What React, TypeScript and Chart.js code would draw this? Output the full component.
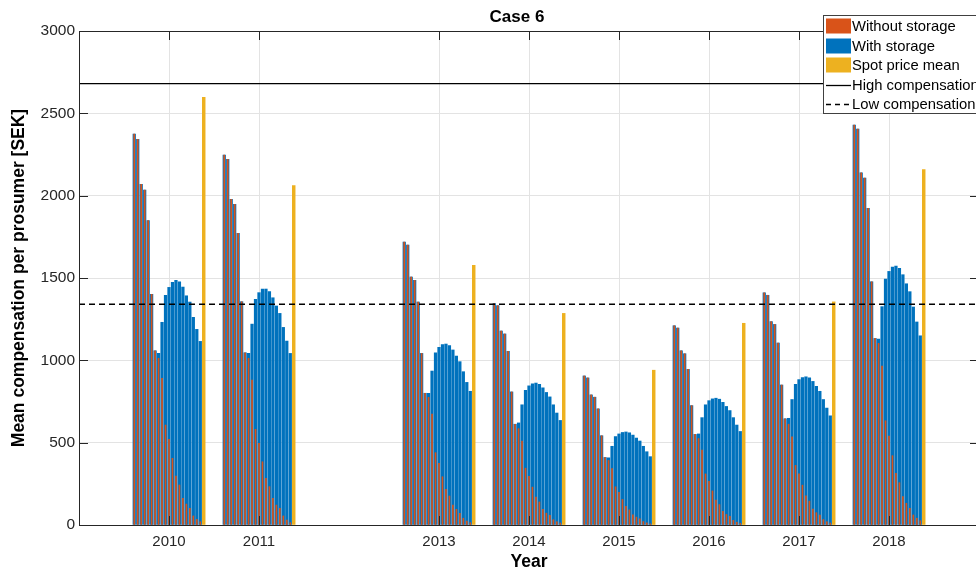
import React, { useEffect, useRef } from "react";
import { Chart, registerables } from "chart.js";
Chart.register(...registerables);

const years = [2010, 2011, 2013, 2014, 2015, 2016, 2017, 2018];

const without2010 = [2374, 2342, 2069, 2034, 1848, 1401, 1058, 1012, 890, 607, 520, 405, 297, 243, 162, 127, 101, 55, 34, 20];
const with2010 = [2374, 2342, 2069, 2034, 1848, 1401, 1058, 1042, 1231, 1395, 1443, 1473, 1486, 1477, 1445, 1392, 1354, 1261, 1188, 1115];
const without2011 = [2247, 2220, 1978, 1947, 1771, 1356, 1046, 1012, 880, 581, 496, 384, 283, 233, 162, 121, 101, 55, 30, 14];
const with2011 = [2247, 2220, 1978, 1947, 1771, 1356, 1046, 1042, 1220, 1370, 1411, 1433, 1433, 1417, 1380, 1330, 1285, 1200, 1117, 1042];
const without2013 = [1718, 1700, 1506, 1486, 1354, 1042, 800, 775, 674, 439, 375, 293, 217, 176, 121, 95, 71, 41, 24, 14];
const with2013 = [1718, 1700, 1506, 1486, 1354, 1042, 800, 800, 935, 1046, 1079, 1095, 1099, 1089, 1063, 1026, 992, 931, 866, 812];
const without2014 = [1345, 1332, 1178, 1160, 1055, 808, 612, 585, 510, 345, 295, 230, 170, 140, 95, 72, 58, 32, 20, 12];
const with2014 = [1345, 1332, 1178, 1160, 1055, 808, 612, 620, 730, 818, 845, 858, 862, 855, 833, 805, 778, 730, 680, 635];
const without2015 = [905, 893, 790, 776, 705, 542, 410, 392, 342, 232, 198, 155, 113, 92, 62, 48, 38, 21, 13, 7];
const with2015 = [905, 893, 790, 776, 705, 542, 410, 408, 478, 537, 553, 562, 565, 560, 546, 528, 510, 478, 445, 415];
const without2016 = [1210, 1196, 1058, 1040, 945, 725, 550, 525, 455, 310, 265, 207, 152, 124, 83, 64, 52, 28, 17, 10];
const with2016 = [1210, 1196, 1058, 1040, 945, 725, 550, 553, 652, 730, 755, 766, 770, 764, 745, 720, 695, 652, 607, 568];
const without2017 = [1410, 1395, 1235, 1218, 1105, 850, 645, 612, 535, 362, 310, 242, 177, 145, 97, 75, 61, 33, 20, 12];
const with2017 = [1410, 1395, 1235, 1218, 1105, 850, 645, 648, 762, 855, 883, 896, 900, 893, 872, 842, 812, 762, 710, 663];
const without2018 = [2429, 2404, 2139, 2107, 1923, 1477, 1133, 1103, 965, 633, 540, 421, 314, 257, 172, 132, 101, 61, 41, 26];
const with2018 = [2429, 2404, 2139, 2107, 1923, 1477, 1133, 1129, 1326, 1494, 1540, 1566, 1573, 1558, 1520, 1465, 1417, 1324, 1233, 1149];

const spotPriceMean = [2597, 2061, 1577, 1285, 940, 1225, 1355, 2159];
const highCompensation = 2680;
const lowCompensation = 1340;

const withoutStorage = [without2010, without2011, without2013, without2014, without2015, without2016, without2017, without2018];
const withStorage = [with2010, with2011, with2013, with2014, with2015, with2016, with2017, with2018];

const seriesNames = ["Without storage", "With storage", "Spot price mean", "High compensation", "Low compensation"];
const yTicks = [0, 500, 1000, 1500, 2000, 2500, 3000];

const SLOT = 0.0386;
const XMIN = 2009;
const XMAX = 2019;
const FONT = "'Liberation Sans', Arial, Helvetica, sans-serif";
const ORANGE = "#D95319";
const BLUE = "#0072BD";
const YELLOW = "#EDB120";
const AXIS = "#262626";

function slotPoints(groups: number[][]) {
  const pts: { x: number; y: number }[] = [];
  groups.forEach((vals, gi) => {
    vals.forEach((v, k) => pts.push({ x: years[gi] + (k - 10) * SLOT, y: v }));
  });
  return pts;
}

const framePlugin = {
  id: "frame",
  afterDatasetsDraw(chart: any) {
    const { ctx, chartArea: a } = chart;
    const xs = chart.scales.x;
    const ys = chart.scales.y;
    ctx.save();
    ctx.strokeStyle = AXIS;
    ctx.lineWidth = 1;
    ctx.beginPath();
    ctx.rect(a.left + 0.5, a.top + 0.5, a.right - a.left, a.bottom - a.top);
    ctx.stroke();
    ctx.beginPath();
    yTicks.forEach((t) => {
      const y = Math.round(ys.getPixelForValue(t)) + 0.5;
      ctx.moveTo(a.left, y);
      ctx.lineTo(a.left + 9, y);
      ctx.moveTo(a.right, y);
      ctx.lineTo(a.right - 9, y);
    });
    years.forEach((t) => {
      const x = Math.round(xs.getPixelForValue(t)) + 0.5;
      ctx.moveTo(x, a.bottom);
      ctx.lineTo(x, a.bottom - 9);
      ctx.moveTo(x, a.top);
      ctx.lineTo(x, a.top + 9);
    });
    ctx.stroke();
    ctx.restore();
  },
  afterDraw(chart: any) {
    const { ctx, chartArea: a } = chart;
    ctx.save();
    ctx.fillStyle = "#000";
    ctx.textAlign = "center";
    ctx.textBaseline = "middle";
    ctx.font = `bold 17px ${FONT}`;
    ctx.fillText("Case 6", 517, 17);
    ctx.font = `bold 17.5px ${FONT}`;
    ctx.fillText("Year", (a.left + a.right) / 2, 562);
    ctx.save();
    ctx.translate(19, (a.top + a.bottom) / 2);
    ctx.rotate(-Math.PI / 2);
    ctx.fillText("Mean compensation per prosumer [SEK]", 0, 0);
    ctx.restore();

    // legend
    const lx = 823.5, ly = 15.5, lw = 170, lh = 98;
    ctx.fillStyle = "#fff";
    ctx.fillRect(lx, ly, lw, lh);
    ctx.strokeStyle = "#404040";
    ctx.lineWidth = 1;
    ctx.strokeRect(lx, ly, lw, lh);
    const rowY = [26, 46, 65, 85, 104];
    const colors = [ORANGE, BLUE, YELLOW];
    ctx.textAlign = "left";
    ctx.font = `14.8px ${FONT}`;
    rowY.forEach((ry, i) => {
      if (i < 3) {
        ctx.fillStyle = colors[i];
        ctx.fillRect(826, ry - 7.5, 25, 15);
      } else {
        ctx.strokeStyle = "#000";
        ctx.lineWidth = 1.3;
        ctx.setLineDash(i === 4 ? [5, 4] : []);
        ctx.beginPath();
        ctx.moveTo(826, ry + 0.5);
        ctx.lineTo(851, ry + 0.5);
        ctx.stroke();
        ctx.setLineDash([]);
      }
      ctx.fillStyle = "#000";
      ctx.fillText(seriesNames[i], 852, ry + 1);
    });
    ctx.restore();
  },
};

export default function App() {
  const ref = useRef<HTMLCanvasElement | null>(null);
  useEffect(() => {
    if (!ref.current) return;
    const chart = new Chart(ref.current, {
      type: "bar",
      data: {
        datasets: [
          {
            type: "bar",
            label: seriesNames[0],
            data: slotPoints(withoutStorage),
            backgroundColor: ORANGE,
            barThickness: 1.0,
            grouped: false,
            order: 1,
          } as any,
          {
            type: "bar",
            label: seriesNames[1],
            data: slotPoints(withStorage),
            backgroundColor: BLUE,
            barThickness: 2.6,
            grouped: false,
            order: 2,
          },
          {
            type: "bar",
            label: seriesNames[2],
            data: spotPriceMean.map((v, i) => ({ x: years[i] + 10 * SLOT, y: v })),
            backgroundColor: YELLOW,
            barThickness: 2.8,
            grouped: false,
            order: 3,
          },
          {
            type: "line",
            label: seriesNames[3],
            data: [{ x: XMIN, y: highCompensation }, { x: XMAX, y: highCompensation }],
            borderColor: "#000",
            borderWidth: 1.3,
            pointRadius: 0,
            order: 0,
          },
          {
            type: "line",
            label: seriesNames[4],
            data: [{ x: XMIN, y: lowCompensation }, { x: XMAX, y: lowCompensation }],
            borderColor: "#000",
            borderWidth: 1.5,
            borderDash: [6, 4],
            pointRadius: 0,
            order: 0,
          },
        ],
      },
      options: {
        responsive: false,
        animation: false,
        layout: { padding: { top: 31, right: 11, left: 0, bottom: 0 } },
        plugins: { legend: { display: false }, title: { display: false }, tooltip: { enabled: false } },
        scales: {
          x: {
            type: "linear",
            min: XMIN,
            max: XMAX,
            offset: false,
            afterBuildTicks: (s: any) => {
              s.ticks = years.map((v) => ({ value: v }));
            },
            afterFit: (s: any) => {
              s.height = 46;
            },
            ticks: {
              callback: (v: any) => String(v),
              color: AXIS,
              font: { family: FONT, size: 15 },
              padding: 8,
              maxRotation: 0,
              autoSkip: false,
            },
            grid: { color: "#e3e3e3", drawTicks: false, offset: false },
            border: { display: false },
          },
          y: {
            type: "linear",
            min: 0,
            max: 3000,
            afterBuildTicks: (s: any) => {
              s.ticks = yTicks.map((v) => ({ value: v }));
            },
            afterFit: (s: any) => {
              s.width = 79;
            },
            ticks: {
              callback: (v: any) => String(v),
              color: AXIS,
              font: { family: FONT, size: 15.5 },
              padding: 4,
            },
            grid: { color: "#e3e3e3", drawTicks: false },
            border: { display: false },
          },
        },
      },
      plugins: [framePlugin],
    });
    return () => chart.destroy();
  }, []);
  return (
    <div style={{ position: "fixed", left: 0, top: 0, width: 976, height: 571, overflow: "hidden", background: "#fff" }}>
      <canvas ref={ref} width={990} height={571} style={{ display: "block" }} />
    </div>
  );
}
